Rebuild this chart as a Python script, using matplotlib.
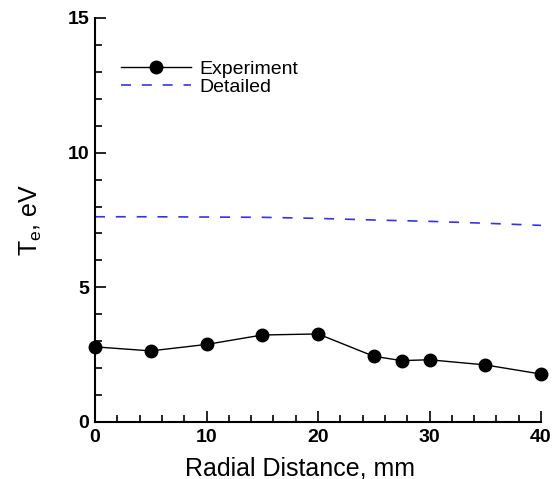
import matplotlib
matplotlib.use("Agg")
import matplotlib.pyplot as plt
from matplotlib.ticker import MultipleLocator

plt.rcParams['font.family'] = ['Liberation Sans', 'DejaVu Sans']
plt.rcParams['mathtext.default'] = 'regular'

exp_x = [0, 5, 10, 15, 20, 25, 27.5, 30, 35, 40]
exp_y = [2.79, 2.64, 2.88, 3.23, 3.27, 2.44, 2.28, 2.31, 2.12, 1.78]

det_x = [0, 5, 10, 15, 20, 25, 30, 35, 40]
det_y = [7.62, 7.62, 7.61, 7.60, 7.56, 7.50, 7.45, 7.38, 7.30]

fig = plt.figure(figsize=(5.56, 4.79), dpi=100)
ax = fig.add_axes([95/556, 1-422/479, (541-95)/556, (422-18)/479])

ax.plot(exp_x, exp_y, color='black', lw=1.0, marker='o', markersize=9,
        label='Experiment', clip_on=False, zorder=3)
ax.plot(det_x, det_y, color='#3333ee', lw=1.2, ls=(0, (6, 6.5)), label='Detailed')

ax.set_xlim(0, 40)
ax.set_ylim(0, 15)
ax.xaxis.set_major_locator(MultipleLocator(10))
ax.xaxis.set_minor_locator(MultipleLocator(2))
ax.yaxis.set_major_locator(MultipleLocator(5))
ax.yaxis.set_minor_locator(MultipleLocator(1))
ax.tick_params(which='both', direction='in', width=1.2)
ax.tick_params(which='major', length=8, labelsize=14)
ax.tick_params(which='minor', length=5)
ax.tick_params(axis='x', pad=5)
ax.tick_params(axis='y', pad=4)
for lab in ax.get_xticklabels() + ax.get_yticklabels():
    lab.set_fontweight('bold')
for s in ['top', 'right']:
    ax.spines[s].set_visible(False)
for s in ['left', 'bottom']:
    ax.spines[s].set_linewidth(1.5)

ax.set_xlabel('Radial Distance, mm', fontsize=18)
ax.xaxis.set_label_coords((300-95)/446, -0.085)
ax.set_ylabel('T$_e$, eV', fontsize=18, labelpad=17)

leg = ax.legend(loc='upper left', bbox_to_anchor=(121/556, 1-60/479),
                bbox_transform=fig.transFigure, frameon=False, fontsize=14,
                handlelength=3.6, handletextpad=0.45, labelspacing=0.05,
                borderpad=0, borderaxespad=0)

fig.savefig('out.png', dpi=100)
